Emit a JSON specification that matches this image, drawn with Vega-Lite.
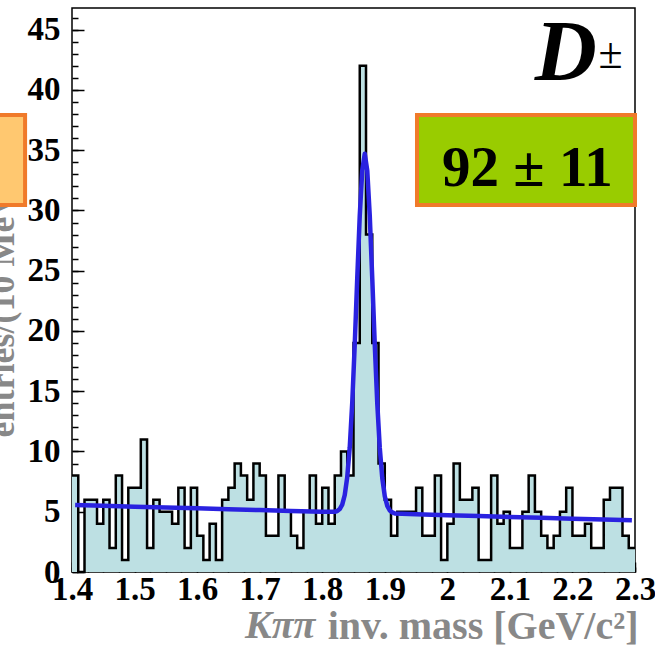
{
  "$schema": "https://vega.github.io/schema/vega-lite/v6.json",
  "width": 563,
  "height": 564,
  "autosize": "none",
  "padding": {"left": 72, "top": 8, "right": 20, "bottom": 82},
  "background": "white",
  "config": {
    "view": {"stroke": "black", "strokeWidth": 1.5},
    "axis": {"labelFont": "Liberation Serif", "titleFont": "Liberation Serif", "grid": false, "domain": false, "tickColor": "black", "tickWidth": 1.5, "labelColor": "black"}
  },
  "datasets": {
    "hist": [
      {"m":1.40,"n":8},{"m":1.41,"n":0},{"m":1.42,"n":6},{"m":1.43,"n":6},{"m":1.44,"n":4},{"m":1.45,"n":6},{"m":1.46,"n":2},{"m":1.47,"n":8},{"m":1.48,"n":1},{"m":1.49,"n":7},
      {"m":1.50,"n":7},{"m":1.51,"n":11},{"m":1.52,"n":2},{"m":1.53,"n":6},{"m":1.54,"n":5},{"m":1.55,"n":5},{"m":1.56,"n":4},{"m":1.57,"n":7},{"m":1.58,"n":2},{"m":1.59,"n":7},
      {"m":1.60,"n":3},{"m":1.61,"n":1},{"m":1.62,"n":4},{"m":1.63,"n":1},{"m":1.64,"n":6},{"m":1.65,"n":7},{"m":1.66,"n":9},{"m":1.67,"n":8},{"m":1.68,"n":6},{"m":1.69,"n":9},
      {"m":1.70,"n":8},{"m":1.71,"n":3},{"m":1.72,"n":3},{"m":1.73,"n":8},{"m":1.74,"n":5},{"m":1.75,"n":3},{"m":1.76,"n":2},{"m":1.77,"n":5},{"m":1.78,"n":8},{"m":1.79,"n":4},
      {"m":1.80,"n":7},{"m":1.81,"n":4},{"m":1.82,"n":8},{"m":1.83,"n":10},{"m":1.84,"n":8},{"m":1.85,"n":19},{"m":1.86,"n":42},{"m":1.87,"n":28},{"m":1.88,"n":19},{"m":1.89,"n":9},
      {"m":1.90,"n":6},{"m":1.91,"n":3},{"m":1.92,"n":5},{"m":1.93,"n":5},{"m":1.94,"n":5},{"m":1.95,"n":7},{"m":1.96,"n":3},{"m":1.97,"n":3},{"m":1.98,"n":8},{"m":1.99,"n":1},
      {"m":2.00,"n":4},{"m":2.01,"n":9},{"m":2.02,"n":6},{"m":2.03,"n":6},{"m":2.04,"n":7},{"m":2.05,"n":1},{"m":2.06,"n":1},{"m":2.07,"n":8},{"m":2.08,"n":4},{"m":2.09,"n":5},
      {"m":2.10,"n":2},{"m":2.11,"n":2},{"m":2.12,"n":5},{"m":2.13,"n":8},{"m":2.14,"n":5},{"m":2.15,"n":3},{"m":2.16,"n":2},{"m":2.17,"n":3},{"m":2.18,"n":5},{"m":2.19,"n":7},
      {"m":2.20,"n":3},{"m":2.21,"n":3},{"m":2.22,"n":4},{"m":2.23,"n":2},{"m":2.24,"n":2},{"m":2.25,"n":6},{"m":2.26,"n":7},{"m":2.27,"n":7},{"m":2.28,"n":3},{"m":2.29,"n":2},
      {"m":2.30,"n":2}
    ],
    "fit": [
      {"x":1.405,"y":5.557},{"x":1.45,"y":5.493},{"x":1.5,"y":5.422},{"x":1.55,"y":5.351},{"x":1.6,"y":5.28},{"x":1.65,"y":5.209},{"x":1.7,"y":5.138},{"x":1.75,"y":5.067},{"x":1.8,"y":4.996},
      {"x":1.82,"y":5.0},{"x":1.824,"y":5.06},{"x":1.828,"y":5.22},{"x":1.832,"y":5.59},{"x":1.836,"y":6.39},{"x":1.84,"y":7.87},{"x":1.844,"y":10.35},{"x":1.848,"y":14.06},{"x":1.852,"y":18.9},
      {"x":1.856,"y":24.38},{"x":1.86,"y":29.58},{"x":1.864,"y":33.33},{"x":1.868,"y":34.7},{"x":1.872,"y":33.31},{"x":1.876,"y":29.56},{"x":1.88,"y":24.34},{"x":1.884,"y":18.86},
      {"x":1.888,"y":14.0},{"x":1.892,"y":10.29},{"x":1.896,"y":7.79},{"x":1.9,"y":6.29},{"x":1.904,"y":5.49},{"x":1.908,"y":5.1},{"x":1.912,"y":4.94},{"x":1.916,"y":4.86},
      {"x":1.95,"y":4.783},{"x":2.0,"y":4.712},{"x":2.05,"y":4.641},{"x":2.1,"y":4.57},{"x":2.15,"y":4.499},{"x":2.2,"y":4.428},{"x":2.25,"y":4.357},{"x":2.295,"y":4.293}
    ],
    "boxes": [
      {"x1":1.9515,"x2":2.3,"y1":30.46,"y2":37.93,"fill":"#99cc00"},
      {"x1":1.2,"x2":1.325,"y1":30.46,"y2":37.93,"fill":"#ffc870"}
    ],
    "labels": [
      {"x":2.128,"y":32.0,"t":"92 ± 11"}
    ]
  },
  "resolve": {"axis": {"x": "independent", "y": "independent"}},
  "layer": [
    {
      "data": {"name": "hist"},
      "mark": {"type": "area", "interpolate": "step-after", "color": "#bde0e3"},
      "encoding": {
        "x": {"field": "m", "type": "quantitative", "scale": {"domain": [1.4, 2.3], "nice": false, "zero": false},
          "axis": {"orient": "bottom", "values": [1.4,1.5,1.6,1.7,1.8,1.9,2.0,2.1,2.2,2.3], "format": "~g", "tickSize": -10, "labelPadding": 11, "labelFontSize": 33, "labelFontWeight": "bold", "labelFlush": false, "labelOverlap": false,
            "title": "inv. mass [GeV/c²]", "titleColor": "#888888", "titleFontSize": 40, "titleFontWeight": "bold", "titleAnchor": "end", "titleAlign": "right", "titleBaseline": "alphabetic", "titleX": 566, "titleY": 66}},
        "y": {"field": "n", "type": "quantitative", "scale": {"domain": [0, 46.8], "nice": false},
          "axis": {"orient": "left", "values": [0,5,10,15,20,25,30,35,40,45], "tickSize": -12, "labelPadding": 24, "labelFontSize": 33, "labelFontWeight": "bold", "labelOverlap": false,
            "title": "entries/(10 MeV/c²)", "titleColor": "#888888", "titleFontSize": 36, "titleFontWeight": "bold", "titleAngle": 270, "titleAlign": "left", "titleBaseline": "alphabetic", "titleX": -59, "titleY": 429}}
      }
    },
    {
      "data": {"name": "hist"},
      "mark": {"type": "line", "interpolate": "step-after", "color": "black", "strokeWidth": 2.5},
      "encoding": {
        "x": {"field": "m", "type": "quantitative",
          "axis": {"orient": "bottom", "values": [1.4,1.425,1.45,1.475,1.5,1.525,1.55,1.575,1.6,1.625,1.65,1.675,1.7,1.725,1.75,1.775,1.8,1.825,1.85,1.875,1.9,1.925,1.95,1.975,2.0,2.025,2.05,2.075,2.1,2.125,2.15,2.175,2.2,2.225,2.25,2.275,2.3], "tickSize": -5, "labels": false, "title": null}},
        "y": {"field": "n", "type": "quantitative",
          "axis": {"orient": "left", "values": [0,1,2,3,4,5,6,7,8,9,10,11,12,13,14,15,16,17,18,19,20,21,22,23,24,25,26,27,28,29,30,31,32,33,34,35,36,37,38,39,40,41,42,43,44,45,46], "tickSize": -6, "labels": false, "title": null}}
      }
    },
    {
      "data": {"name": "fit"},
      "mark": {"type": "line", "color": "#2a22e0", "strokeWidth": 4.5, "strokeJoin": "round"},
      "encoding": {
        "x": {"field": "x", "type": "quantitative", "axis": null},
        "y": {"field": "y", "type": "quantitative", "axis": null}
      }
    },
    {
      "data": {"name": "boxes"},
      "mark": {"type": "rect", "stroke": "#f07a2a", "strokeWidth": 4, "clip": false},
      "encoding": {
        "x": {"field": "x1", "type": "quantitative", "axis": null},
        "x2": {"field": "x2"},
        "y": {"field": "y1", "type": "quantitative", "axis": null},
        "y2": {"field": "y2"},
        "fill": {"field": "fill", "type": "nominal", "scale": null}
      }
    },
    {
      "data": {"name": "labels"},
      "mark": {"type": "text", "font": "Liberation Serif", "fontWeight": "bold", "fontSize": 57, "align": "center", "baseline": "alphabetic", "color": "black"},
      "encoding": {
        "x": {"field": "x", "type": "quantitative", "axis": null},
        "y": {"field": "y", "type": "quantitative", "axis": null},
        "text": {"field": "t"}
      }
    },
    {
      "data": {"values": [{"x": 2.239, "y": 40.8, "t": "D"}]},
      "mark": {"type": "text", "font": "Liberation Serif", "fontWeight": "bold", "fontStyle": "italic", "fontSize": 86, "align": "right", "baseline": "alphabetic", "color": "black"},
      "encoding": {
        "x": {"field": "x", "type": "quantitative", "axis": null},
        "y": {"field": "y", "type": "quantitative", "axis": null},
        "text": {"field": "t"}
      }
    },
    {
      "data": {"values": [{"x": 2.2415, "y": 41.8, "t": "±"}]},
      "mark": {"type": "text", "font": "Liberation Serif", "fontSize": 44, "align": "left", "baseline": "alphabetic", "color": "black"},
      "encoding": {
        "x": {"field": "x", "type": "quantitative", "axis": null},
        "y": {"field": "y", "type": "quantitative", "axis": null},
        "text": {"field": "t"}
      }
    },
    {
      "data": {"values": [{"x": 1.789, "y": -5.48, "t": "Kππ"}]},
      "mark": {"type": "text", "font": "Liberation Serif", "fontWeight": "bold", "fontStyle": "italic", "fontSize": 40, "align": "right", "baseline": "alphabetic", "color": "#888888", "clip": false},
      "encoding": {
        "x": {"field": "x", "type": "quantitative", "axis": null},
        "y": {"field": "y", "type": "quantitative", "axis": null},
        "text": {"field": "t"}
      }
    }
  ]
}
